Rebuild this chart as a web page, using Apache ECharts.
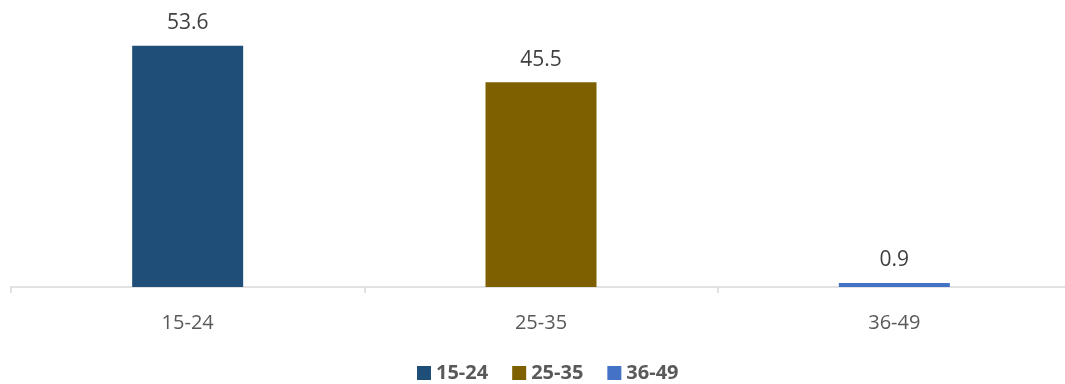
<!DOCTYPE html>
<html>
<head>
<meta charset="utf-8">
<script src="https://cdn.jsdelivr.net/npm/echarts@6/dist/echarts.min.js"></script>
<style>
  html, body { margin: 0; padding: 0; background: #ffffff; overflow: hidden; }
  #chart { width: 1075px; height: 384px; }
</style>
</head>
<body>
<div id="chart"></div>
<script>
// Age groups and their shares
const categories = ['15-24', '25-35', '36-49'];
const values = [53.6, 45.5, 0.9];
const colors = ['#1F4E79', '#7F6000', '#4472C4'];

// One series per age group so each gets its own legend entry;
// each series only holds a value in its own category.
const series = categories.map((name, i) => ({
  name: name,
  type: 'bar',
  barWidth: 111,
  barGap: '-100%',
  itemStyle: { color: colors[i] },
  label: {
    show: true,
    position: 'top',
    distance: 12,
    color: '#404040',
    fontFamily: 'Open Sans',
    fontSize: 21
  },
  data: categories.map((c, j) => (j === i ? values[i] : '-'))
}));

const chart = echarts.init(document.getElementById('chart'));
chart.setOption({
  animation: false,
  grid: { left: 11, width: 1060, top: 17, bottom: 97, containLabel: false },
  legend: {
    bottom: -4,
    left: 412,
    itemWidth: 14,
    itemHeight: 14,
    itemGap: 24,
    icon: 'rect',
    textStyle: {
      color: '#595959',
      fontFamily: 'Open Sans',
      fontWeight: 'bold',
      fontSize: 20
    },
    data: categories
  },
  xAxis: {
    type: 'category',
    data: categories,
    axisLine: { lineStyle: { color: '#d9d9d9', width: 1.5 } },
    axisTick: { show: true, length: 6, lineStyle: { color: '#d9d9d9', width: 1.5 } },
    axisLabel: {
      color: '#595959',
      fontFamily: 'Open Sans',
      fontSize: 20,
      margin: 26
    }
  },
  yAxis: {
    type: 'value',
    min: 0,
    max: 60,
    show: false
  },
  series: series
});
</script>
</body>
</html>
